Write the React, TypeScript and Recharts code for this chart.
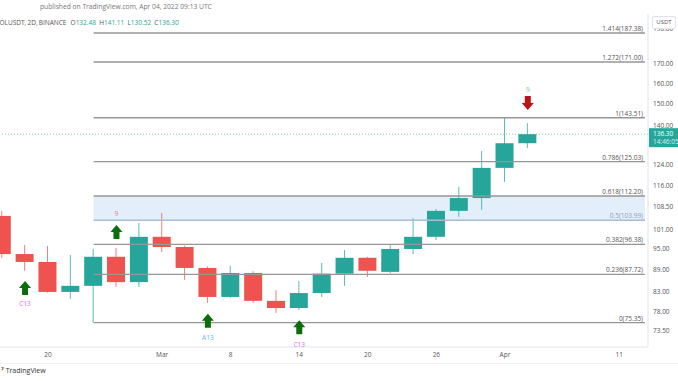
import React from 'react';
import {
  ComposedChart, Bar, Scatter, XAxis, YAxis, ReferenceLine, ReferenceArea,
} from 'recharts';

// SOLUSDT 2D candles, Feb 16 - Apr 03 2022
const dates = [
  'Feb 16', 'Feb 18', 'Feb 20', 'Feb 22', 'Feb 24', 'Feb 26', 'Feb 28',
  'Mar 02', 'Mar 04', 'Mar 06', 'Mar 08', 'Mar 10', 'Mar 12', 'Mar 14',
  'Mar 16', 'Mar 18', 'Mar 20', 'Mar 22', 'Mar 24', 'Mar 26', 'Mar 28',
  'Mar 30', 'Apr 01', 'Apr 03',
];
const opens = [105.4, 93.5, 91.2, 83.0, 84.6, 92.7, 85.6, 98.7, 95.6, 89.5, 81.7, 88.1,
  80.7, 78.9, 82.7, 87.9, 92.4, 88.4, 95.0, 98.7, 107.1, 111.5, 122.6, 132.48];
const highs = [107.0, 96.2, 95.9, 93.2, 95.0, 95.3, 103.1, 106.4, 96.0, 89.9, 90.1, 88.6,
  83.5, 85.9, 90.9, 94.7, 92.7, 96.5, 104.7, 107.7, 115.5, 129.3, 143.51, 141.11];
const lows = [92.4, 88.7, 82.8, 81.2, 75.35, 84.3, 84.3, 94.1, 86.2, 80.2, 81.4, 80.2,
  77.7, 78.4, 81.7, 84.6, 87.0, 88.0, 93.5, 97.7, 105.1, 107.4, 117.3, 130.52];
const closes = [93.5, 91.2, 83.0, 84.6, 92.7, 85.6, 98.7, 95.6, 89.5, 81.7, 88.1, 80.7,
  78.9, 82.7, 87.9, 92.4, 88.7, 95.0, 98.7, 107.1, 111.5, 122.6, 132.48, 136.30];

// x-axis ticks (slot index -> label)
const xTickIdx = [2, 7, 10, 13, 16, 19, 22, 27];
const xTickLabels = ['20', 'Mar', '8', '14', '20', '26', 'Apr', '11'];

const priceTicks = [73.5, 78, 83, 89, 95, 101, 108.5, 116, 124, 140, 150, 160, 170, 190];

// fibonacci retracement drawn from the Feb 24 low to the Apr 01 high
const fibLevels = ['0', '0.236', '0.382', '0.5', '0.618', '0.786', '1', '1.272', '1.414'];
const fibPrices = [75.35, 87.72, 96.38, 103.99, 112.20, 125.03, 143.51, 171.00, 187.38];
const fibStartIdx = 4;
const fibEndIdx = 28.13;

// TD sequential marks
const arrowIdx = [1, 5, 9, 13, 23];
const arrowPrice = [84.0, 100.2, 75.8, 74.3, 150.4];
const arrowDir = ['up', 'up', 'up', 'up', 'down'];
const tdIdx = [1, 5, 9, 13, 23];
const tdPrice = [79.9, 106.1, 71.8, 70.3, 156.7];
const tdText = ['C13', '9', 'A13', 'C13', '9'];
const tdColor = ['#e070f5', '#f07a7a', '#5eb2f2', '#e070f5', '#6fcf7c'];

const UP = '#26a69a';
const DOWN = '#ef5350';
const FONT = '"Open Sans", "Noto Sans", sans-serif';
const FS = 6.5;

const candles = dates.map((d, i) => ({
  i, date: d, open: opens[i], high: highs[i], low: lows[i], close: closes[i],
}));
const arrows = arrowIdx.map((i, k) => ({ i, p: arrowPrice[k], dir: arrowDir[k] }));
const tdMarks = tdIdx.map((i, k) => ({ i, p: tdPrice[k], text: tdText[k], color: tdColor[k] }));

function Candle(props: any) {
  const { x, y, width, height, payload } = props;
  if (x == null || y == null) return null;
  const { open, close, high, low } = payload;
  const cx = x + width / 2;
  const span = Math.log(high) - Math.log(low);
  const py = (v: number) => y + ((Math.log(high) - Math.log(v)) / span) * height;
  const color = close >= open ? UP : DOWN;
  const top = py(Math.max(open, close));
  const bot = py(Math.min(open, close));
  return (
    <g>
      <line x1={cx} x2={cx} y1={y} y2={y + height} stroke={color} strokeOpacity={0.75} strokeWidth={1} />
      <rect x={x} y={top} width={width} height={Math.max(1.5, bot - top)} fill={color} />
    </g>
  );
}

function Arrow(props: any) {
  const { cx, cy, payload } = props;
  if (cx == null) return null;
  if (payload.dir === 'up') {
    return (
      <path
        d={`M${cx} ${cy - 7} L${cx + 6} ${cy} L${cx + 3} ${cy} L${cx + 3} ${cy + 7} L${cx - 3} ${cy + 7} L${cx - 3} ${cy} L${cx - 6} ${cy} Z`}
        fill="#0b6e0b"
      />
    );
  }
  return (
    <path
      d={`M${cx} ${cy + 7} L${cx + 6} ${cy} L${cx + 3} ${cy} L${cx + 3} ${cy - 7} L${cx - 3} ${cy - 7} L${cx - 3} ${cy} L${cx - 6} ${cy} Z`}
      fill="#b8141a"
    />
  );
}

function TdLabel(props: any) {
  const { cx, cy, payload } = props;
  if (cx == null) return null;
  return (
    <text x={cx} y={cy} dy={2.3} textAnchor="middle" fontSize={FS} fontFamily={FONT} fill={payload.color}>
      {payload.text}
    </text>
  );
}

const fibLabel = (text: string, color: string) => (props: any) => {
  const vb = props.viewBox || {};
  return (
    <text x={vb.x + vb.width - 2} y={vb.y - 2} textAnchor="end" fontSize={FS} fontFamily={FONT} fill={color}>
      {text}
    </text>
  );
};

const priceLabel = (props: any) => {
  const vb = props.viewBox || {};
  const x = vb.x + vb.width + 1;
  return (
    <g>
      <rect x={x} y={vb.y - 6} width={30} height={19} fill={UP} />
      <text x={x + 4} y={vb.y + 2.3} fontSize={FS} fontFamily={FONT} fill="#fff">136.30</text>
      <text x={x + 4} y={vb.y + 10.3} fontSize={FS} fontFamily={FONT} fill="#d6f0ec">14:46:05</text>
    </g>
  );
};

const val = { color: UP };

export default function App() {
  const last = candles[candles.length - 1];
  return (
    <div style={{ position: 'absolute', left: 0, top: 0, width: 678, height: 381, background: '#fff', overflow: 'hidden', fontFamily: FONT }}>
      <ComposedChart width={678} height={363} data={candles} margin={{ top: 14, right: 0, bottom: 0, left: 0 }}>
        <XAxis
          type="number"
          dataKey="i"
          domain={[-0.0963, 28.26]}
          allowDataOverflow
          ticks={xTickIdx}
          interval={0}
          tickFormatter={(v: number) => xTickLabels[xTickIdx.indexOf(v)] ?? ''}
          height={16}
          tickSize={0}
          tickMargin={5}
          axisLine={{ stroke: '#e0e3eb' }}
          tick={{ fontSize: FS, fill: '#555', fontFamily: FONT }}
        />
        <YAxis
          orientation="right"
          scale="log"
          domain={[69.8, 198.9]}
          allowDataOverflow
          ticks={priceTicks}
          interval={0}
          width={30}
          tickSize={0}
          tickMargin={5}
          tickFormatter={(v: number) => v.toFixed(2)}
          axisLine={{ stroke: '#e0e3eb' }}
          tick={{ fontSize: FS, fill: '#555', fontFamily: FONT }}
        />
        <ReferenceArea
          x1={fibStartIdx}
          x2={fibEndIdx}
          y1={fibPrices[3]}
          y2={fibPrices[4]}
          fill="#e3eefb"
          fillOpacity={1}
          stroke="none"
        />
        {fibPrices.map((p, k) => {
          const mid = fibLevels[k] === '0.5';
          return (
            <ReferenceLine
              key={fibLevels[k]}
              segment={[{ x: fibStartIdx, y: p }, { x: fibEndIdx, y: p }]}
              stroke={mid ? '#a9bbd6' : '#969696'}
              strokeWidth={1.4}
              label={fibLabel(`${fibLevels[k]}(${p.toFixed(2)})`, mid ? '#8c9fbd' : '#555')}
            />
          );
        })}
        <ReferenceLine
          y={last.close}
          stroke={UP}
          strokeOpacity={0.6}
          strokeDasharray="1 2"
          label={priceLabel}
        />
        <Bar
          dataKey={(d: any) => [d.low, d.high]}
          shape={Candle}
          barSize={18}
          isAnimationActive={false}
        />
        <Scatter data={arrows} dataKey="p" shape={Arrow} isAnimationActive={false} />
        <Scatter data={tdMarks} dataKey="p" shape={TdLabel} isAnimationActive={false} />
      </ComposedChart>

      <div style={{ position: 'absolute', left: 40, top: 2, fontSize: 6.7, color: '#777', whiteSpace: 'nowrap' }}>
        published on TradingView.com, Apr 04, 2022 09:13 UTC
      </div>
      <div style={{ position: 'absolute', left: -4, top: 18, fontSize: FS, color: '#555', whiteSpace: 'nowrap', wordSpacing: -0.5 }}>
        SOLUSDT, 2D, BINANCE <span style={{ marginLeft: 3 }}>O</span><span style={val}>{last.open.toFixed(2)}</span>
        {' '}<span style={{ marginLeft: 2 }}>H</span><span style={val}>{last.high.toFixed(2)}</span>
        {' '}<span style={{ marginLeft: 2 }}>L</span><span style={val}>{last.low.toFixed(2)}</span>
        {' '}<span style={{ marginLeft: 2 }}>C</span><span style={val}>{last.close.toFixed(2)}</span>
      </div>
      <div style={{ position: 'absolute', left: 652, top: 16, width: 22, height: 11, border: '1px solid #e0e3eb', borderRadius: 2, background: '#fff', fontSize: 6, color: '#555', textAlign: 'center', lineHeight: '11px' }}>
        USDT
      </div>
      <div style={{ position: 'absolute', left: 0, top: 363, width: 678, height: 1, background: '#eef0f3' }} />
      <div style={{ position: 'absolute', left: 1, top: 366, fontSize: 7, color: '#333', whiteSpace: 'nowrap' }}>
        <span style={{ fontWeight: 700, marginRight: 2 }}>⁷</span>TradingView
      </div>
    </div>
  );
}
